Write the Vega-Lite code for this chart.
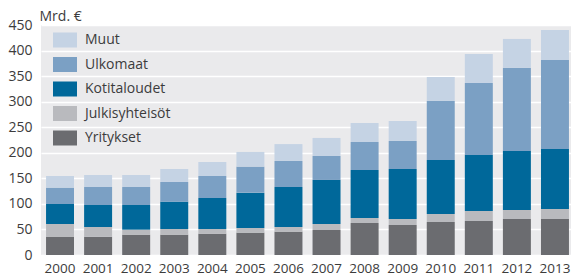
{
  "$schema": "https://vega.github.io/schema/vega-lite/v6.json",
  "width": 530,
  "height": 230,
  "autosize": {"type": "none"},
  "padding": {"left": 41, "top": 25, "right": 0, "bottom": 21},
  "background": "white",
  "config": {
    "font": "Open Sans",
    "view": {"fill": "#eaeaec", "stroke": null},
    "axis": {"labelColor": "#3c3c3c", "titleColor": "#3c3c3c", "labelFont": "Open Sans", "titleFont": "Open Sans"}
  },
  "datasets": {
    "jarjestys": [
      {"sarja": "Yritykset", "nro": 1},
      {"sarja": "Julkisyhteisöt", "nro": 2},
      {"sarja": "Kotitaloudet", "nro": 3},
      {"sarja": "Ulkomaat", "nro": 4},
      {"sarja": "Muut", "nro": 5}
    ]
  },
  "data": {"values": [
    {"vuosi": "2000", "sarja": "Yritykset", "arvo": 35.9},
    {"vuosi": "2000", "sarja": "Julkisyhteisöt", "arvo": 24.8},
    {"vuosi": "2000", "sarja": "Kotitaloudet", "arvo": 39.1},
    {"vuosi": "2000", "sarja": "Ulkomaat", "arvo": 32.0},
    {"vuosi": "2000", "sarja": "Muut", "arvo": 22.8},
    {"vuosi": "2001", "sarja": "Yritykset", "arvo": 35.9},
    {"vuosi": "2001", "sarja": "Julkisyhteisöt", "arvo": 18.9},
    {"vuosi": "2001", "sarja": "Kotitaloudet", "arvo": 43.0},
    {"vuosi": "2001", "sarja": "Ulkomaat", "arvo": 35.2},
    {"vuosi": "2001", "sarja": "Muut", "arvo": 23.5},
    {"vuosi": "2002", "sarja": "Yritykset", "arvo": 39.8},
    {"vuosi": "2002", "sarja": "Julkisyhteisöt", "arvo": 9.8},
    {"vuosi": "2002", "sarja": "Kotitaloudet", "arvo": 48.2},
    {"vuosi": "2002", "sarja": "Ulkomaat", "arvo": 35.2},
    {"vuosi": "2002", "sarja": "Muut", "arvo": 23.5},
    {"vuosi": "2003", "sarja": "Yritykset", "arvo": 39.8},
    {"vuosi": "2003", "sarja": "Julkisyhteisöt", "arvo": 11.1},
    {"vuosi": "2003", "sarja": "Kotitaloudet", "arvo": 53.5},
    {"vuosi": "2003", "sarja": "Ulkomaat", "arvo": 38.5},
    {"vuosi": "2003", "sarja": "Muut", "arvo": 25.4},
    {"vuosi": "2004", "sarja": "Yritykset", "arvo": 41.7},
    {"vuosi": "2004", "sarja": "Julkisyhteisöt", "arvo": 9.2},
    {"vuosi": "2004", "sarja": "Kotitaloudet", "arvo": 60.6},
    {"vuosi": "2004", "sarja": "Ulkomaat", "arvo": 43.1},
    {"vuosi": "2004", "sarja": "Muut", "arvo": 27.4},
    {"vuosi": "2005", "sarja": "Yritykset", "arvo": 43.7},
    {"vuosi": "2005", "sarja": "Julkisyhteisöt", "arvo": 9.1},
    {"vuosi": "2005", "sarja": "Kotitaloudet", "arvo": 69.2},
    {"vuosi": "2005", "sarja": "Ulkomaat", "arvo": 50.9},
    {"vuosi": "2005", "sarja": "Muut", "arvo": 28.7},
    {"vuosi": "2006", "sarja": "Yritykset", "arvo": 45.7},
    {"vuosi": "2006", "sarja": "Julkisyhteisöt", "arvo": 9.1},
    {"vuosi": "2006", "sarja": "Kotitaloudet", "arvo": 78.2},
    {"vuosi": "2006", "sarja": "Ulkomaat", "arvo": 51.0},
    {"vuosi": "2006", "sarja": "Muut", "arvo": 33.0},
    {"vuosi": "2007", "sarja": "Yritykset", "arvo": 48.9},
    {"vuosi": "2007", "sarja": "Julkisyhteisöt", "arvo": 11.8},
    {"vuosi": "2007", "sarja": "Kotitaloudet", "arvo": 86.1},
    {"vuosi": "2007", "sarja": "Ulkomaat", "arvo": 46.9},
    {"vuosi": "2007", "sarja": "Muut", "arvo": 35.3},
    {"vuosi": "2008", "sarja": "Yritykset", "arvo": 62.6},
    {"vuosi": "2008", "sarja": "Julkisyhteisöt", "arvo": 9.8},
    {"vuosi": "2008", "sarja": "Kotitaloudet", "arvo": 93.9},
    {"vuosi": "2008", "sarja": "Ulkomaat", "arvo": 54.8},
    {"vuosi": "2008", "sarja": "Muut", "arvo": 37.2},
    {"vuosi": "2009", "sarja": "Yritykset", "arvo": 58.7},
    {"vuosi": "2009", "sarja": "Julkisyhteisöt", "arvo": 11.7},
    {"vuosi": "2009", "sarja": "Kotitaloudet", "arvo": 97.9},
    {"vuosi": "2009", "sarja": "Ulkomaat", "arvo": 54.8},
    {"vuosi": "2009", "sarja": "Muut", "arvo": 39.1},
    {"vuosi": "2010", "sarja": "Yritykset", "arvo": 64.6},
    {"vuosi": "2010", "sarja": "Julkisyhteisöt", "arvo": 15.6},
    {"vuosi": "2010", "sarja": "Kotitaloudet", "arvo": 105.7},
    {"vuosi": "2010", "sarja": "Ulkomaat", "arvo": 115.5},
    {"vuosi": "2010", "sarja": "Muut", "arvo": 46.9},
    {"vuosi": "2011", "sarja": "Yritykset", "arvo": 66.5},
    {"vuosi": "2011", "sarja": "Julkisyhteisöt", "arvo": 19.6},
    {"vuosi": "2011", "sarja": "Kotitaloudet", "arvo": 109.6},
    {"vuosi": "2011", "sarja": "Ulkomaat", "arvo": 140.9},
    {"vuosi": "2011", "sarja": "Muut", "arvo": 56.7},
    {"vuosi": "2012", "sarja": "Yritykset", "arvo": 70.4},
    {"vuosi": "2012", "sarja": "Julkisyhteisöt", "arvo": 17.7},
    {"vuosi": "2012", "sarja": "Kotitaloudet", "arvo": 115.4},
    {"vuosi": "2012", "sarja": "Ulkomaat", "arvo": 162.5},
    {"vuosi": "2012", "sarja": "Muut", "arvo": 56.7},
    {"vuosi": "2013", "sarja": "Yritykset", "arvo": 70.4},
    {"vuosi": "2013", "sarja": "Julkisyhteisöt", "arvo": 19.6},
    {"vuosi": "2013", "sarja": "Kotitaloudet", "arvo": 117.4},
    {"vuosi": "2013", "sarja": "Ulkomaat", "arvo": 174.2},
    {"vuosi": "2013", "sarja": "Muut", "arvo": 58.7}
  ]},
  "transform": [
    {"lookup": "sarja", "from": {"data": {"name": "jarjestys"}, "key": "sarja", "fields": ["nro"]}}
  ],
  "mark": {"type": "bar"},
  "encoding": {
    "x": {
      "field": "vuosi", "type": "ordinal",
      "scale": {"range": [0, 533], "paddingInner": 0.265, "paddingOuter": 0.1325},
      "axis": {"title": null, "labelAngle": 0, "labelFontSize": 13.5, "labelPadding": 6, "ticks": false, "domain": false, "grid": false}
    },
    "y": {
      "field": "arvo", "type": "quantitative", "aggregate": "sum",
      "scale": {"domain": [0, 450], "nice": false},
      "axis": {
        "title": "Mrd. €", "titleAngle": 0, "titleAlign": "left", "titleBaseline": "alphabetic",
        "titleX": -2, "titleY": -5, "titleFontSize": 14, "titleFontWeight": "normal",
        "values": [0, 50, 100, 150, 200, 250, 300, 350, 400, 450],
        "labelFontSize": 14, "labelPadding": 9, "ticks": false, "domain": false,
        "grid": true, "gridColor": "white", "gridWidth": 1.5, "gridOpacity": 1
      }
    },
    "order": {"field": "nro", "type": "quantitative", "sort": "ascending"},
    "color": {
      "field": "sarja", "type": "nominal",
      "scale": {
        "domain": ["Muut", "Ulkomaat", "Kotitaloudet", "Julkisyhteisöt", "Yritykset"],
        "range": ["#c5d3e4", "#7ba0c4", "#00689a", "#b9babe", "#6b6c70"]
      },
      "legend": {
        "title": null, "orient": "none", "legendX": 12, "legendY": 3, "padding": 0,
        "symbolType": "M-1,-0.625H1V0.625H-1Z", "symbolSize": 576, "symbolStrokeWidth": 0,
        "symbolOpacity": 1,
        "labelFontSize": 14, "labelColor": "#3c3c3c", "labelOffset": 8, "labelFont": "Open Sans",
        "rowPadding": 4.5
      }
    }
  }
}
